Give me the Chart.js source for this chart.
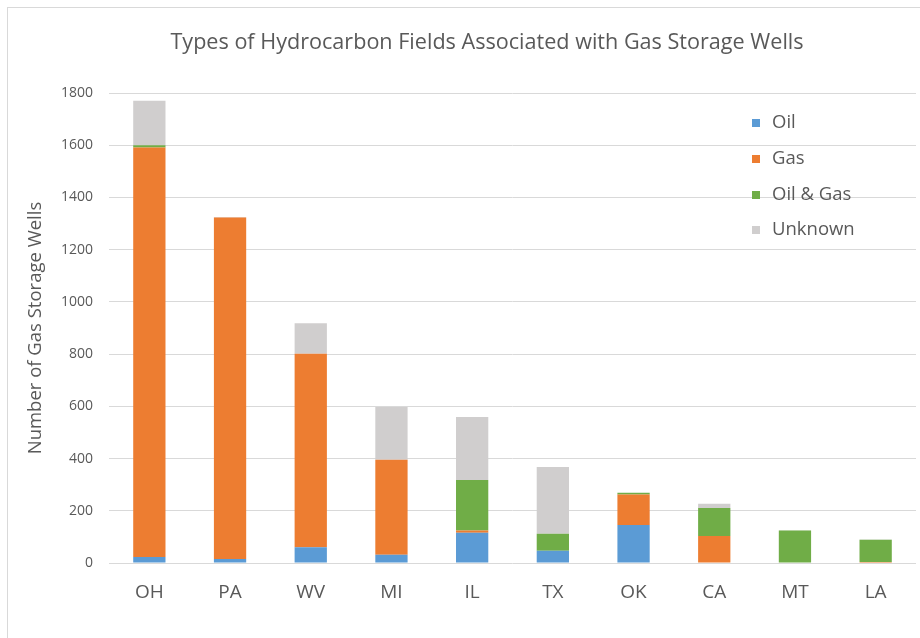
<!DOCTYPE html>
<html>
<head>
<meta charset="utf-8">
<script src="https://cdn.jsdelivr.net/npm/chart.js@4.4.1/dist/chart.umd.min.js"></script>
<style>
  html, body { margin: 0; padding: 0; background: #fff; overflow: hidden; }
  #wrap { position: relative; width: 920px; height: 638px; }
  #frame { position: absolute; left: 7px; top: 7px; width: 940px; height: 660px; border: 1px solid #D9D9D9; box-sizing: border-box; }
  canvas { position: absolute; left: 0; top: 0; }
</style>
</head>
<body>
<div id="wrap">
  <div id="frame"></div>
  <canvas id="c" width="920" height="638"></canvas>
</div>
<script>
const categories = ["OH", "PA", "WV", "MI", "IL", "TX", "OK", "CA", "MT", "LA"];
const oilValues = [23, 15, 60, 32, 116, 47, 146, 0, 0, 0];
const gasValues = [1568, 1308, 741, 363, 8, 0, 116, 103, 0, 4];
const oilGasValues = [9, 0, 0, 0, 194, 65, 7, 108, 124, 85];
const unknownValues = [170, 2, 117, 202, 241, 256, 0, 16, 1, 1];
const seriesNames = ["Oil", "Gas", "Oil & Gas", "Unknown"];
const yTicks = [0, 200, 400, 600, 800, 1000, 1200, 1400, 1600, 1800];
const chartTitle = "Types of Hydrocarbon Fields Associated with Gas Storage Wells";
const yTitle = "Number of Gas Storage Wells";

const colors = ["#5B9BD5", "#ED7D31", "#70AD47", "#D0CECE"];
const FONT = "'Open Sans', 'Noto Sans', sans-serif";
const TEXT = "#595959";

const overlay = {
  id: 'overlay',
  afterDatasetsDraw(chart) {
    const ctx = chart.ctx;
    ctx.save();
    ctx.fillStyle = TEXT;
    ctx.font = "21.6px " + FONT;
    ctx.textAlign = "center";
    ctx.textBaseline = "middle";
    ctx.fillText(chartTitle, 487, 43);
    ctx.font = "18.5px " + FONT;
    ctx.textAlign = "left";
    const rows = [123, 159, 195, 230];
    chart.data.datasets.forEach((ds, i) => {
      ctx.fillStyle = ds.backgroundColor;
      ctx.fillRect(752, rows[i] - 4, 8, 8);
      ctx.fillStyle = TEXT;
      ctx.fillText(ds.label, 772, rows[i]);
    });
    ctx.restore();
  }
};

const valueSets = [oilValues, gasValues, oilGasValues, unknownValues];
new Chart(document.getElementById('c'), {
  type: 'bar',
  data: {
    labels: categories,
    datasets: seriesNames.map((n, i) => ({
      label: n,
      data: valueSets[i],
      backgroundColor: colors[i],
      borderWidth: 0,
      barPercentage: 0.4,
      categoryPercentage: 1.0
    }))
  },
  options: {
    responsive: false,
    animation: false,
    devicePixelRatio: 1,
    layout: { padding: { top: 93, right: 4, left: 0, bottom: 0 } },
    plugins: { legend: { display: false }, title: { display: false }, tooltip: { enabled: false } },
    scales: {
      x: {
        stacked: true,
        grid: { display: false, drawTicks: false },
        border: { display: false },
        ticks: { color: TEXT, font: { family: FONT, size: 19 }, padding: 18 },
        afterFit(s) { s.height = 75; }
      },
      y: {
        stacked: true,
        min: 0, max: 1800,
        afterBuildTicks(s) { s.ticks = yTicks.map(v => ({ value: v })); },
        grid: { color: "#D9D9D9", lineWidth: 1, drawTicks: false },
        border: { display: false },
        ticks: { color: TEXT, font: { family: FONT, size: 14 }, padding: 16, callback: (v) => String(v) },
        title: { display: true, text: yTitle, color: TEXT, font: { family: FONT, size: 18.5 }, padding: { top: 25, bottom: 0 } },
        afterFit(s) { s.width = 109; }
      }
    }
  },
  plugins: [overlay]
});
</script>
</body>
</html>
